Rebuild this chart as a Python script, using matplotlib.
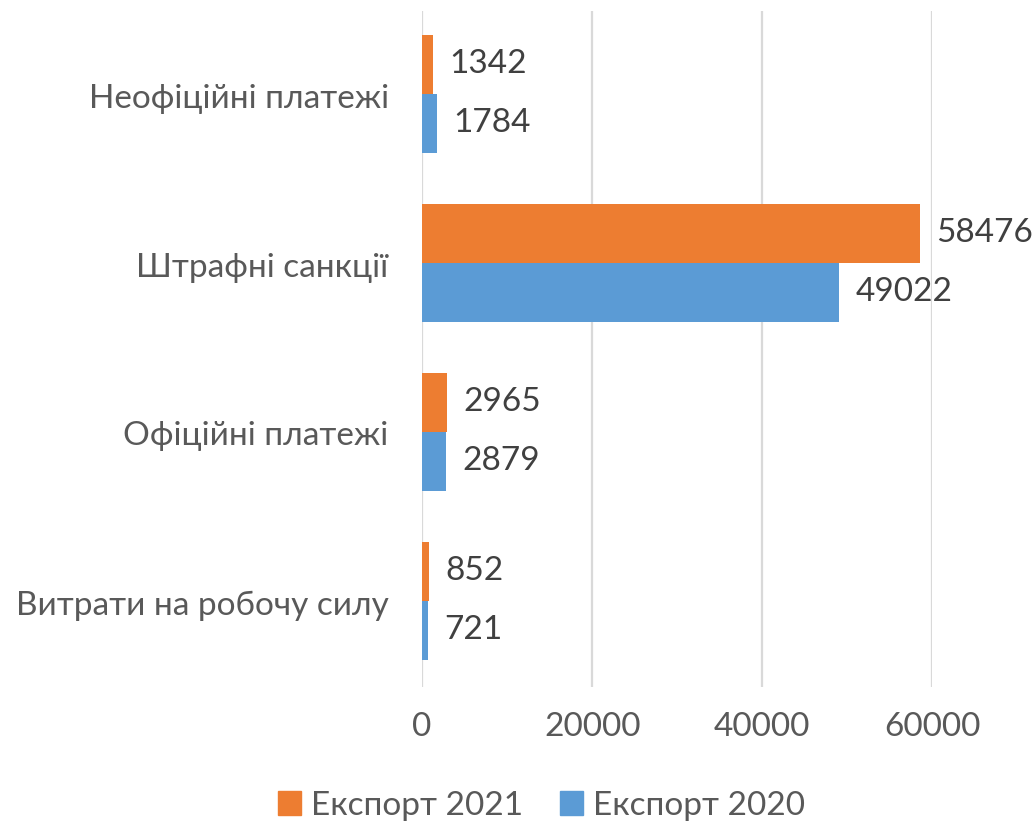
import numpy as np
import matplotlib.pyplot as plt
from matplotlib.patches import Patch

plt.rcParams['font.family'] = ['Lato', 'DejaVu Sans']

categories = ['Витрати на робочу силу', 'Офіційні платежі', 'Штрафні санкції', 'Неофіційні платежі']
export_2021 = [852, 2965, 58476, 1342]
export_2020 = [721, 2879, 49022, 1784]
series_names = ['Експорт 2021', 'Експорт 2020']

orange = '#ED7D31'
blue = '#5B9BD5'
text_col = '#595959'
label_col = '#404040'
fs = 24

fig = plt.figure(figsize=(10.33, 8.23), dpi=100)
ax = fig.add_axes([0.4085, 0.1653, 0.4942, 0.8213])

y = np.arange(len(categories))
h = 0.35
b21 = ax.barh(y + h / 2 + 0.01, export_2021, height=h, color=orange, zorder=3)
b20 = ax.barh(y - h / 2 + 0.01, export_2020, height=h, color=blue, zorder=3)

for bars, vals in ((b21, export_2021), (b20, export_2020)):
    for bar, v in zip(bars, vals):
        ax.text(v + 1900, bar.get_y() + bar.get_height() / 2, str(v),
                va='center', ha='left', fontsize=fs, color=label_col, clip_on=False)

ax.set_xlim(0, 60000)
ax.set_ylim(-0.5, len(categories) - 0.5)
ax.set_xticks([0, 20000, 40000, 60000])
ax.set_yticks(y)
ax.set_yticklabels(categories)
ax.tick_params(axis='x', labelsize=fs, labelcolor=text_col, length=0, pad=18)
ax.tick_params(axis='y', labelsize=fs, labelcolor=text_col, length=0, pad=24)
ax.grid(axis='x', color='#D9D9D9', linewidth=1.6, zorder=0)
for s in ax.spines.values():
    s.set_visible(False)

handles = [Patch(color=orange), Patch(color=blue)]
fig.legend(handles, series_names, loc='center', bbox_to_anchor=(0.524, 0.021),
           ncol=2, frameon=False, fontsize=fs, labelcolor=text_col,
           handlelength=0.7, handleheight=0.7, handletextpad=0.3, columnspacing=1.1)

fig.savefig('out.png', dpi=100)
